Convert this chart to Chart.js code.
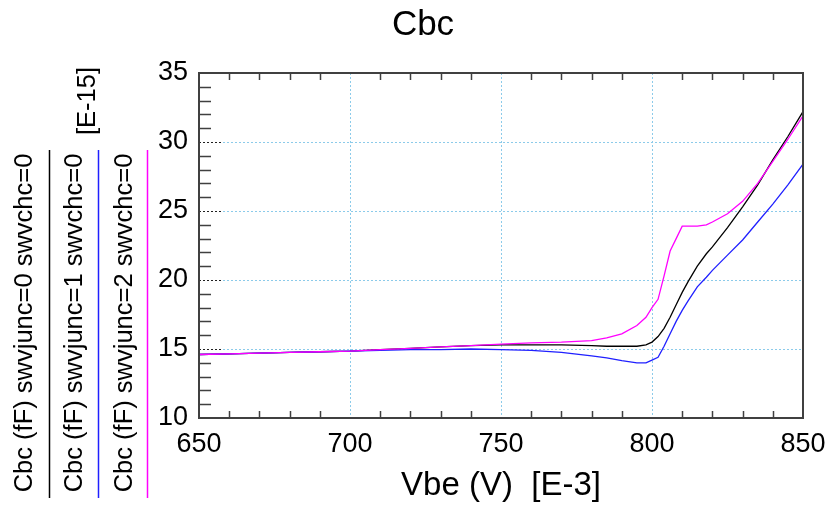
<!DOCTYPE html>
<html lang="en">
<head>
  <meta charset="UTF-8">
  <title>Cbc</title>
  <script src="https://cdn.jsdelivr.net/npm/chart.js@4.4.0/dist/chart.umd.min.js"></script>
  <style>
    body { margin: 0; background: #fff; }
    #chart { display: block; }
  </style>
</head>
<body>
  <canvas id="chart" width="828" height="512"></canvas>

  <script>
    // Vbe sweep in mV ([E-3] V)
    const vbe = [650, 660, 670, 680, 690, 700, 710, 720, 730, 740, 750, 760, 770, 780, 785, 790, 795, 798,
                 800, 802, 804, 806, 808, 810, 812, 815, 818, 820, 825, 830, 835, 840, 845, 850];

    // Cbc in fF ([E-15] F), one list per swvjunc setting
    const cbcJunc0 = [14.6, 14.65, 14.7, 14.75, 14.8, 14.85, 14.95, 15.05, 15.15, 15.25, 15.3, 15.3, 15.3, 15.25, 15.2, 15.2, 15.2, 15.3,
                      15.5, 15.9, 16.5, 17.3, 18.2, 19.1, 19.9, 21.0, 21.9, 22.4, 23.8, 25.3, 26.9, 28.7, 30.4, 32.2];
    const cbcJunc1 = [14.6, 14.65, 14.7, 14.75, 14.8, 14.85, 14.9, 14.95, 14.95, 15.0, 14.95, 14.9, 14.75, 14.5, 14.35, 14.15, 14.0, 14.0,
                      14.2, 14.4, 15.2, 16.1, 17.0, 17.8, 18.5, 19.5, 20.2, 20.7, 21.8, 22.9, 24.2, 25.5, 26.9, 28.4];
    const cbcJunc2 = [14.6, 14.65, 14.7, 14.75, 14.8, 14.85, 14.95, 15.05, 15.15, 15.25, 15.35, 15.45, 15.5, 15.6, 15.8, 16.1, 16.7, 17.3,
                      18.0, 18.6, 20.3, 22.1, 23.0, 23.9, 23.9, 23.9, 24.0, 24.2, 24.8, 25.7, 27.0, 28.6, 30.2, 31.9];

    const seriesLabels = [
      "Cbc (fF) swvjunc=0 swvchc=0",
      "Cbc (fF) swvjunc=1 swvchc=0",
      "Cbc (fF) swvjunc=2 swvchc=0"
    ];
    const seriesColors = ["#000000", "#2020ff", "#ff00ff"];

    const FONT = "'Liberation Sans', Arial, sans-serif";

    function toPoints(ys) {
      return vbe.map((x, i) => ({ x: x, y: ys[i] }));
    }

    // title, frame, tick marks and the rotated legend on the left
    const framePlugin = {
      id: "frame",
      afterDraw(chart) {
        const ctx = chart.ctx;
        const a = chart.chartArea;
        const xs = chart.scales.x, ys = chart.scales.y;
        ctx.save();

        // minor ticks
        ctx.strokeStyle = "#404040";
        ctx.lineWidth = 1.5;
        ctx.beginPath();
        for (let v = 660; v < 850; v += 10) {
          if (v % 50 === 0) continue;
          const px = Math.round(xs.getPixelForValue(v)) + 0.5;
          ctx.moveTo(px, a.top); ctx.lineTo(px, a.top + 7);
          ctx.moveTo(px, a.bottom); ctx.lineTo(px, a.bottom - 7);
        }
        for (let v = 11; v < 35; v += 1) {
          if (v % 5 === 0) continue;
          const py = Math.round(ys.getPixelForValue(v)) + 0.5;
          ctx.moveTo(a.left, py); ctx.lineTo(a.left + 12, py);
        }
        ctx.stroke();

        // major ticks on the left: dark dotted stubs
        ctx.setLineDash([2, 2]);
        ctx.lineWidth = 1;
        ctx.strokeStyle = "#202020";
        ctx.beginPath();
        for (let v = 15; v < 35; v += 5) {
          const py = Math.round(ys.getPixelForValue(v)) + 0.5;
          ctx.moveTo(a.left, py); ctx.lineTo(a.left + 23, py);
        }
        ctx.stroke();
        ctx.setLineDash([]);

        // frame
        ctx.strokeStyle = "#404040";
        ctx.lineWidth = 2;
        ctx.strokeRect(a.left, a.top, a.right - a.left, a.bottom - a.top);

        ctx.fillStyle = "#000";
        ctx.textAlign = "center";

        // title
        ctx.font = "35px " + FONT;
        ctx.textBaseline = "alphabetic";
        ctx.fillText("Cbc", 423, 35);

        // rotated legend
        ctx.font = "25.5px " + FONT;
        seriesLabels.forEach((label, i) => {
          ctx.save();
          ctx.translate(32 + i * 50, 323);
          ctx.rotate(-Math.PI / 2);
          ctx.fillText(label, 0, 0);
          ctx.restore();

          const lx = 49.5 + i * 49;
          ctx.strokeStyle = seriesColors[i];
          ctx.lineWidth = 1.5;
          ctx.beginPath();
          ctx.moveTo(lx, 150); ctx.lineTo(lx, 498);
          ctx.stroke();
        });

        // y unit
        ctx.save();
        ctx.translate(95, 101);
        ctx.rotate(-Math.PI / 2);
        ctx.fillText("[E-15]", 0, 0);
        ctx.restore();

        ctx.restore();
      }
    };

    const gridColor = (c) => (c.tick && (c.index === 0 || c.tick.value === c.scale.max)) ? "rgba(0,0,0,0)" : "#8ccbea";

    new Chart(document.getElementById("chart").getContext("2d"), {
      type: "scatter",
      data: {
        datasets: [
          { label: seriesLabels[0], data: toPoints(cbcJunc0), borderColor: seriesColors[0], order: 2 },
          { label: seriesLabels[1], data: toPoints(cbcJunc1), borderColor: seriesColors[1], order: 1 },
          { label: seriesLabels[2], data: toPoints(cbcJunc2), borderColor: seriesColors[2], order: 0 }
        ].map(d => Object.assign(d, { showLine: true, pointRadius: 0, borderWidth: 1.3, tension: 0 }))
      },
      options: {
        responsive: false,
        animation: false,
        layout: { padding: { left: 0, right: 25, top: 73, bottom: 0 } },
        plugins: {
          legend: { display: false },
          tooltip: { enabled: false },
          title: { display: false }
        },
        scales: {
          x: {
            type: "linear",
            min: 650, max: 850,
            afterFit: s => { s.height = 94; s.paddingLeft = 0; s.paddingRight = 0; },
            ticks: { stepSize: 50, color: "#000", padding: 10, maxRotation: 0, font: { family: FONT, size: 27 } },
            grid: { color: gridColor, drawTicks: false, lineWidth: 1 },
            border: { display: false, dash: [2, 2] },
            title: {
              display: true,
              text: "Vbe (V)  [E-3]",
              color: "#000",
              font: { family: FONT, size: 33 },
              padding: { top: 0, bottom: 6 }
            }
          },
          y: {
            type: "linear",
            min: 10, max: 35,
            afterFit: s => { s.width = 199; s.paddingTop = 0; s.paddingBottom = 0; },
            ticks: { stepSize: 5, color: "#000", padding: 11, font: { family: FONT, size: 27 } },
            grid: { color: gridColor, drawTicks: false, lineWidth: 1 },
            border: { display: false, dash: [2, 2] }
          }
        }
      },
      plugins: [framePlugin]
    });
  </script>
</body>
</html>
